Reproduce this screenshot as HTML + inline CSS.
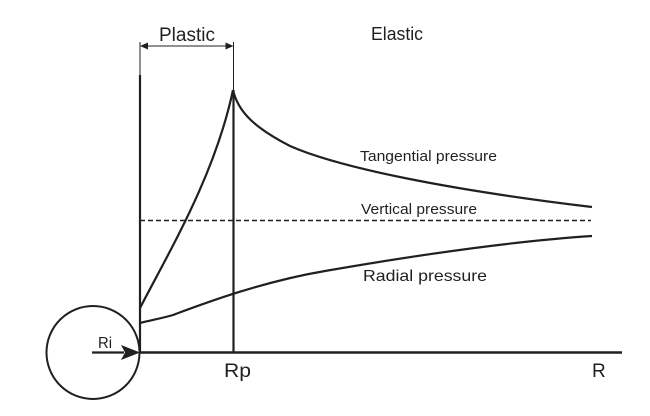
<!DOCTYPE html>
<html>
<head>
<meta charset="utf-8">
<style>
html,body{margin:0;padding:0;background:#fff;}
svg{display:block;}
text{font-family:"Liberation Sans",Arial,sans-serif;fill:#231f20;}
</style>
</head>
<body>
<svg width="650" height="416" viewBox="0 0 650 416" xmlns="http://www.w3.org/2000/svg">
  <rect width="650" height="416" fill="#fff"/>
  <g stroke="#231f20" fill="none" stroke-linecap="butt">
    <line x1="140" y1="42" x2="140" y2="76" stroke-width="1"/>
    <line x1="233.5" y1="42" x2="233.5" y2="92" stroke-width="1"/>
    <line x1="146" y1="46" x2="228" y2="46" stroke-width="1"/>
    <line x1="140" y1="75" x2="140" y2="353" stroke-width="2.2"/>
    <line x1="233.5" y1="90" x2="233.5" y2="353" stroke-width="2.2"/>
    <line x1="139" y1="352.5" x2="622" y2="352.5" stroke-width="2.4"/>
    <circle cx="93" cy="352.5" r="46.5" stroke-width="2"/>
    <line x1="92" y1="352.5" x2="124" y2="352.5" stroke-width="2.2"/>
    <line x1="140" y1="220.5" x2="591" y2="220.5" stroke-width="1.6" stroke-dasharray="5,3"/>
    <path d="M140,308 C170,250 215,175 233,90" stroke-width="2.2"/>
    <path d="M233,90 C238,112 255,128 290,146 C340,168 450,190 592,207" stroke-width="2.2"/>
    <path d="M140,323 C152,320 163,318 173,315 C200,305 260,282 325,271 C400,258 500,242 592,236" stroke-width="2.2"/>
  </g>
  <g fill="#231f20">
    <polygon points="140,46 148,42.5 148,49.5"/>
    <polygon points="233.5,46 225.5,42.5 225.5,49.5"/>
    <polygon points="140,352.5 121,345 125,352.5 121,360"/>
  </g>
  <text x="159" y="41" font-size="19" textLength="56" lengthAdjust="spacingAndGlyphs">Plastic</text>
  <text x="371" y="40" font-size="18" textLength="52" lengthAdjust="spacingAndGlyphs">Elastic</text>
  <text x="360" y="161" font-size="14.5" textLength="137" lengthAdjust="spacingAndGlyphs">Tangential pressure</text>
  <text x="361" y="214" font-size="14.5" textLength="116" lengthAdjust="spacingAndGlyphs">Vertical pressure</text>
  <text x="363" y="281" font-size="16" textLength="124" lengthAdjust="spacingAndGlyphs">Radial pressure</text>
  <text x="98" y="348" font-size="16" textLength="14" lengthAdjust="spacingAndGlyphs">Ri</text>
  <text x="224" y="377" font-size="19" textLength="27" lengthAdjust="spacingAndGlyphs">Rp</text>
  <text x="592" y="377" font-size="19">R</text>
</svg>
</body>
</html>
